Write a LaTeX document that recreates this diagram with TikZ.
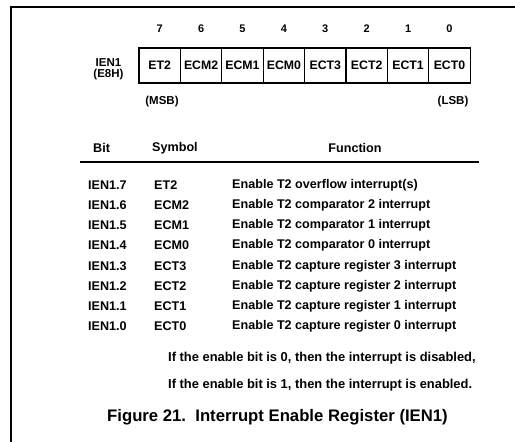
\documentclass[tikz,border=0pt]{standalone}
\usepackage{fontspec}
\setmainfont{Liberation Sans}
\begin{document}
\begin{tikzpicture}[x=1pt,y=-1pt,
  cell/.style={draw,line width=1.3pt,minimum width=41.4pt,minimum height=35pt,inner sep=0pt,font=\bfseries\fontsize{12.3}{13}\selectfont},
  bitnum/.style={font=\bfseries\fontsize{11}{12}\selectfont,inner sep=0pt},
  small/.style={font=\bfseries\fontsize{11.5}{12}\selectfont,inner sep=0pt},
  txt/.style={font=\bfseries\fontsize{12.6}{13}\selectfont,inner sep=0pt,anchor=west},
  notetxt/.style={font=\bfseries\fontsize{12.9}{13}\selectfont,inner sep=0pt,anchor=west},
  figcaption/.style={font=\bfseries\fontsize{16.7}{18}\selectfont,inner sep=0pt,anchor=west}]
\useasboundingbox (0,0) rectangle (515,442);
% frame
\draw[line width=1.5pt] (11,442) -- (11,7) -- (515,7);
% register cells
\foreach \lab [count=\i from 0] in {ET2,ECM2,ECM1,ECM0,ECT3,ECT2,ECT1,ECT0}{
  \pgfmathtruncatemacro{\b}{7-\i}
  \node[cell] (c\b) at (139+41.4*\i+20.7,65.5) {\lab};
  \node[bitnum] (n\b) at (c\b.center |- 0,29) {\b};
}
\node[small,align=center] (reg) at (108.5,69) {IEN1\\[-1.5pt](E8H)};
\node[small] (msb) at (162,102) {(MSB)};
\node[small] (lsb) at (453,102) {(LSB)};
% table header
\node[txt] (hbit) at (93,148) {Bit};
\node[txt] (hsym) at (152,148) {Symbol};
\node[txt,anchor=center] (hfun) at (355,148) {Function};
\draw[line width=2pt] (80,162) -- (479,162);
% rows
\foreach \sym/\fun [count=\i from 0] in {
  ET2/Enable T2 overflow interrupt(s),
  ECM2/Enable T2 comparator 2 interrupt,
  ECM1/Enable T2 comparator 1 interrupt,
  ECM0/Enable T2 comparator 0 interrupt,
  ECT3/Enable T2 capture register 3 interrupt,
  ECT2/Enable T2 capture register 2 interrupt,
  ECT1/Enable T2 capture register 1 interrupt,
  ECT0/Enable T2 capture register 0 interrupt}{
  \pgfmathtruncatemacro{\b}{7-\i}
  \node[txt] (rb\b) at (88,185+20.2*\i) {IEN1.\b};
  \node[txt] (rs\b) at (154,185+20.2*\i) {\sym};
  \node[txt] (rf\b) at (232,185+20.2*\i) {\fun};
}
% notes
\node[notetxt] (note1) at (168,358) {If the enable bit is 0, then the interrupt is disabled,};
\node[notetxt] (note2) at (168,385) {If the enable bit is 1, then the interrupt is enabled.};
\node[figcaption] (caption) at (107,417) {Figure 21.\ \ Interrupt Enable Register (IEN1)};
\end{tikzpicture}
\end{document}
